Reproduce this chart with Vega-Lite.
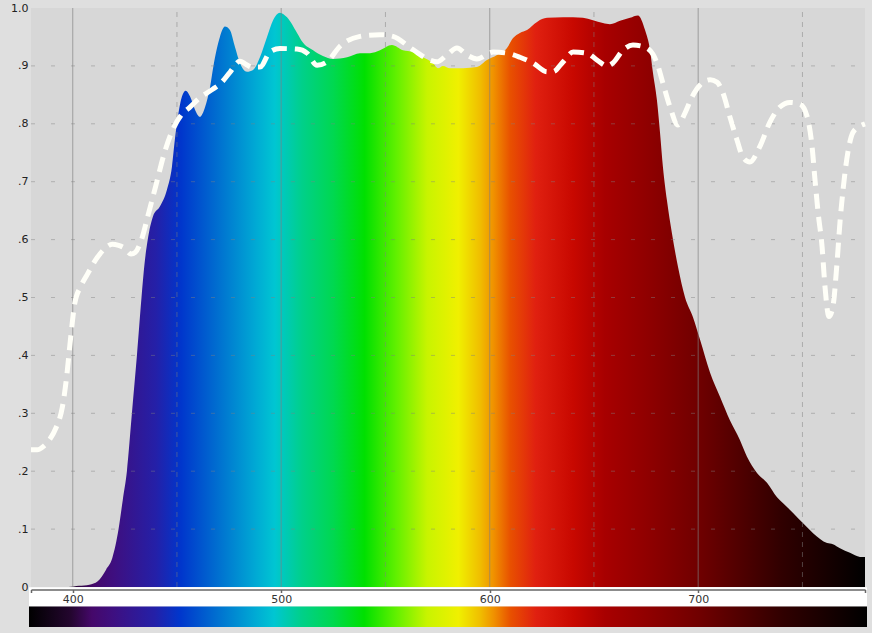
{
  "$schema": "https://vega.github.io/schema/vega-lite/v6.json",
  "width": 834,
  "height": 619,
  "autosize": {"type": "none"},
  "padding": {"left": 31, "top": 8, "right": 7, "bottom": 6},
  "background": "#dfdfdf",
  "config": {
    "view": {"stroke": null},
    "axis": {"labelFont": "DejaVu Sans", "labelFontSize": 11, "labelColor": "#222"}
  },
  "layer": [
    {
      "data": {"values": [{"a": 380, "b": 780, "lo": 0, "hi": 1}]},
      "mark": {"type": "rect", "fill": "#d7d7d7"},
      "encoding": {
        "x": {"field": "a", "type": "quantitative",
          "scale": {"domain": [380, 780], "nice": false, "zero": false},
          "axis": {"orient": "bottom", "offset": -37.5, "values": [380, 400, 500, 600, 700, 780],
            "labelExpr": "datum.value == 380 || datum.value == 780 ? '' : datum.label",
            "grid": false, "domainColor": "#666", "domainWidth": 1.5, "tickColor": "#666", "tickSize": 3, "tickWidth": 1.5,
            "labelPadding": 1, "title": null, "zindex": 1, "labelColor": "#333", "labelFlush": false, "labelBound": false, "labelOverlap": false}},
        "x2": {"field": "b"},
        "y": {"field": "lo", "type": "quantitative",
          "scale": {"domain": [-0.06908, 1], "nice": false, "zero": false},
          "axis": {"orient": "left", "values": [0, 0.1, 0.2, 0.3, 0.4, 0.5, 0.6, 0.7, 0.8, 0.9, 1],
            "labelExpr": "datum.value >= 0.99 ? '1.0' : datum.value <= 0.001 ? '0' : '.' + round(datum.value * 10)",
            "domain": false, "ticks": false, "grid": false, "labelPadding": 3, "title": null, "labelFlush": false, "labelOverlap": false}},
        "y2": {"field": "hi"}
      }
    },
    {
      "data": {"values": [
        {"nm": 380, "t": 0}, {"nm": 398, "t": 0}, {"nm": 403, "t": 0.002}, {"nm": 408, "t": 0.004},
        {"nm": 412, "t": 0.01}, {"nm": 416, "t": 0.03}, {"nm": 419, "t": 0.05}, {"nm": 422, "t": 0.1},
        {"nm": 424, "t": 0.15}, {"nm": 426, "t": 0.2}, {"nm": 428.4, "t": 0.3}, {"nm": 430.8, "t": 0.4},
        {"nm": 433, "t": 0.5}, {"nm": 434.5, "t": 0.56}, {"nm": 436, "t": 0.6}, {"nm": 438.5, "t": 0.64},
        {"nm": 441.8, "t": 0.657}, {"nm": 445.2, "t": 0.686}, {"nm": 447.6, "t": 0.726}, {"nm": 449, "t": 0.773},
        {"nm": 450.5, "t": 0.813}, {"nm": 452.4, "t": 0.847}, {"nm": 454.2, "t": 0.857}, {"nm": 456.3, "t": 0.847},
        {"nm": 458.7, "t": 0.824}, {"nm": 461, "t": 0.812}, {"nm": 463.5, "t": 0.829}, {"nm": 465.9, "t": 0.864},
        {"nm": 467.5, "t": 0.9}, {"nm": 470.6, "t": 0.95}, {"nm": 473, "t": 0.968}, {"nm": 475.4, "t": 0.962},
        {"nm": 477.8, "t": 0.933}, {"nm": 480.2, "t": 0.905}, {"nm": 483.6, "t": 0.89}, {"nm": 486.5, "t": 0.893},
        {"nm": 489.8, "t": 0.915}, {"nm": 493.2, "t": 0.95}, {"nm": 496.1, "t": 0.979}, {"nm": 499.4, "t": 0.992},
        {"nm": 502.8, "t": 0.984}, {"nm": 507.6, "t": 0.957}, {"nm": 510.5, "t": 0.94}, {"nm": 515.3, "t": 0.927},
        {"nm": 520, "t": 0.917}, {"nm": 524.8, "t": 0.912}, {"nm": 531.6, "t": 0.915}, {"nm": 537.8, "t": 0.922},
        {"nm": 542.6, "t": 0.922}, {"nm": 547.4, "t": 0.927}, {"nm": 553.1, "t": 0.936}, {"nm": 558.4, "t": 0.927},
        {"nm": 563.2, "t": 0.924}, {"nm": 568, "t": 0.915}, {"nm": 572.8, "t": 0.905}, {"nm": 575.2, "t": 0.896},
        {"nm": 577.6, "t": 0.9}, {"nm": 581, "t": 0.896}, {"nm": 587.2, "t": 0.896}, {"nm": 593.9, "t": 0.898},
        {"nm": 598.7, "t": 0.91}, {"nm": 603.5, "t": 0.919}, {"nm": 608.3, "t": 0.931}, {"nm": 611.2, "t": 0.948},
        {"nm": 614.5, "t": 0.957}, {"nm": 617.9, "t": 0.962}, {"nm": 622.7, "t": 0.976}, {"nm": 627.5, "t": 0.983},
        {"nm": 635.2, "t": 0.984}, {"nm": 640, "t": 0.984}, {"nm": 644.7, "t": 0.983}, {"nm": 649.5, "t": 0.979},
        {"nm": 654.3, "t": 0.974}, {"nm": 657.7, "t": 0.972}, {"nm": 662.5, "t": 0.978}, {"nm": 667.3, "t": 0.983},
        {"nm": 671.1, "t": 0.987}, {"nm": 674.5, "t": 0.962}, {"nm": 676.9, "t": 0.927}, {"nm": 678.3, "t": 0.888},
        {"nm": 680.2, "t": 0.841}, {"nm": 681.7, "t": 0.784}, {"nm": 683.1, "t": 0.725}, {"nm": 685, "t": 0.668},
        {"nm": 687.4, "t": 0.611}, {"nm": 690.3, "t": 0.553}, {"nm": 693.7, "t": 0.5}, {"nm": 697.5, "t": 0.466},
        {"nm": 700.9, "t": 0.427}, {"nm": 705.7, "t": 0.37}, {"nm": 710.5, "t": 0.328}, {"nm": 715.2, "t": 0.288},
        {"nm": 720, "t": 0.254}, {"nm": 723.4, "t": 0.225}, {"nm": 728.2, "t": 0.197}, {"nm": 733, "t": 0.18},
        {"nm": 737.8, "t": 0.155}, {"nm": 740.6, "t": 0.145}, {"nm": 745.5, "t": 0.128}, {"nm": 750.3, "t": 0.11},
        {"nm": 755.1, "t": 0.093}, {"nm": 761.8, "t": 0.076}, {"nm": 764.6, "t": 0.074}, {"nm": 768, "t": 0.067},
        {"nm": 772.8, "t": 0.059}, {"nm": 777.6, "t": 0.052}, {"nm": 780, "t": 0.052}
      ]},
      "mark": {"type": "area", "interpolate": "monotone",
        "fill": {"gradient": "linear", "x1": 0, "x2": 1, "y1": 0, "y2": 0, "stops": [
          {"offset": 0, "color": "#000000"}, {"offset": 0.05, "color": "#24062f"}, {"offset": 0.075, "color": "#45086a"},
          {"offset": 0.1, "color": "#3e0f80"}, {"offset": 0.15, "color": "#2420a8"}, {"offset": 0.18, "color": "#0036cc"},
          {"offset": 0.225, "color": "#0070d0"}, {"offset": 0.27, "color": "#00aad4"}, {"offset": 0.2925, "color": "#00c6d2"},
          {"offset": 0.325, "color": "#00d08a"}, {"offset": 0.3625, "color": "#00d850"}, {"offset": 0.4, "color": "#00e000"},
          {"offset": 0.4375, "color": "#60f000"}, {"offset": 0.475, "color": "#c8f400"}, {"offset": 0.5125, "color": "#f0f000"},
          {"offset": 0.5375, "color": "#f0c000"}, {"offset": 0.555, "color": "#f09000"}, {"offset": 0.575, "color": "#e85000"},
          {"offset": 0.605, "color": "#e02010"}, {"offset": 0.65, "color": "#c80800"}, {"offset": 0.6875, "color": "#a80000"},
          {"offset": 0.7375, "color": "#900000"}, {"offset": 0.8, "color": "#700000"}, {"offset": 0.9, "color": "#300000"},
          {"offset": 1, "color": "#000000"}]}},
      "encoding": {
        "x": {"field": "nm", "type": "quantitative", "title": null},
        "y": {"field": "t", "type": "quantitative", "title": null},
        "y2": {"datum": 0}
      }
    },
    {
      "data": {"values": [
        {"v": 0.1, "a": 380, "b": 780}, {"v": 0.2, "a": 380, "b": 780}, {"v": 0.3, "a": 380, "b": 780},
        {"v": 0.4, "a": 380, "b": 780}, {"v": 0.5, "a": 380, "b": 780}, {"v": 0.6, "a": 380, "b": 780},
        {"v": 0.7, "a": 380, "b": 780}, {"v": 0.8, "a": 380, "b": 780}, {"v": 0.9, "a": 380, "b": 780}
      ]},
      "mark": {"type": "rule", "stroke": "#808080", "strokeOpacity": 0.45, "strokeWidth": 1, "strokeDash": [4, 16]},
      "encoding": {
        "y": {"field": "v", "type": "quantitative", "title": null},
        "x": {"field": "a", "type": "quantitative", "title": null},
        "x2": {"field": "b"}
      }
    },
    {
      "data": {"values": [
        {"w": 450, "lo": 0, "hi": 1}, {"w": 550, "lo": 0, "hi": 1}, {"w": 650, "lo": 0, "hi": 1}, {"w": 750, "lo": 0, "hi": 1}
      ]},
      "mark": {"type": "rule", "stroke": "#808080", "strokeOpacity": 0.5, "strokeWidth": 1, "strokeDash": [5, 5]},
      "encoding": {
        "x": {"field": "w", "type": "quantitative", "title": null},
        "y": {"field": "lo", "type": "quantitative", "title": null},
        "y2": {"field": "hi"}
      }
    },
    {
      "data": {"values": [
        {"w": 400, "lo": 0, "hi": 1}, {"w": 500, "lo": 0, "hi": 1}, {"w": 600, "lo": 0, "hi": 1}, {"w": 700, "lo": 0, "hi": 1}
      ]},
      "mark": {"type": "rule", "stroke": "#808080", "strokeOpacity": 0.55, "strokeWidth": 1.2},
      "encoding": {
        "x": {"field": "w", "type": "quantitative", "title": null},
        "y": {"field": "lo", "type": "quantitative", "title": null},
        "y2": {"field": "hi"}
      }
    },
    {
      "data": {"values": [
        {"nm": 380, "r": 0.237}, {"nm": 383, "r": 0.237}, {"nm": 386, "r": 0.243}, {"nm": 389, "r": 0.255},
        {"nm": 392, "r": 0.275}, {"nm": 395, "r": 0.31}, {"nm": 397, "r": 0.36}, {"nm": 399, "r": 0.43},
        {"nm": 401, "r": 0.49}, {"nm": 404, "r": 0.52}, {"nm": 407, "r": 0.54}, {"nm": 411, "r": 0.565},
        {"nm": 415, "r": 0.583}, {"nm": 419, "r": 0.592}, {"nm": 422, "r": 0.59}, {"nm": 425, "r": 0.585},
        {"nm": 428, "r": 0.575}, {"nm": 430, "r": 0.578}, {"nm": 433, "r": 0.6}, {"nm": 436, "r": 0.64},
        {"nm": 440, "r": 0.695}, {"nm": 444, "r": 0.75}, {"nm": 448, "r": 0.79}, {"nm": 452, "r": 0.815},
        {"nm": 456, "r": 0.828}, {"nm": 461, "r": 0.845}, {"nm": 467.3, "r": 0.86}, {"nm": 471, "r": 0.87},
        {"nm": 475.4, "r": 0.889}, {"nm": 480.2, "r": 0.908}, {"nm": 483, "r": 0.903}, {"nm": 486, "r": 0.898},
        {"nm": 489.8, "r": 0.898}, {"nm": 494.6, "r": 0.924}, {"nm": 499.4, "r": 0.93}, {"nm": 507.6, "r": 0.929},
        {"nm": 512.4, "r": 0.922}, {"nm": 517.2, "r": 0.901}, {"nm": 522, "r": 0.907}, {"nm": 528.2, "r": 0.934},
        {"nm": 537.8, "r": 0.951}, {"nm": 547.4, "r": 0.954}, {"nm": 553.6, "r": 0.951}, {"nm": 563.2, "r": 0.928},
        {"nm": 571.4, "r": 0.91}, {"nm": 574.7, "r": 0.907}, {"nm": 579.5, "r": 0.919}, {"nm": 584.3, "r": 0.931},
        {"nm": 589, "r": 0.919}, {"nm": 593.9, "r": 0.912}, {"nm": 601.6, "r": 0.924}, {"nm": 608.3, "r": 0.922},
        {"nm": 614.5, "r": 0.915}, {"nm": 620.8, "r": 0.905}, {"nm": 627.5, "r": 0.89}, {"nm": 630.4, "r": 0.89},
        {"nm": 635.2, "r": 0.907}, {"nm": 640, "r": 0.924}, {"nm": 646.7, "r": 0.922}, {"nm": 651.5, "r": 0.91},
        {"nm": 656.3, "r": 0.9}, {"nm": 659.1, "r": 0.905}, {"nm": 663.9, "r": 0.927}, {"nm": 668.7, "r": 0.936},
        {"nm": 674, "r": 0.933}, {"nm": 678.3, "r": 0.92}, {"nm": 680.7, "r": 0.9}, {"nm": 683.1, "r": 0.87},
        {"nm": 686.5, "r": 0.829}, {"nm": 690.3, "r": 0.798}, {"nm": 693.7, "r": 0.819}, {"nm": 697, "r": 0.846},
        {"nm": 700.9, "r": 0.867}, {"nm": 705.7, "r": 0.876}, {"nm": 709, "r": 0.872}, {"nm": 711.9, "r": 0.853},
        {"nm": 715.2, "r": 0.812}, {"nm": 718.6, "r": 0.772}, {"nm": 721.5, "r": 0.742}, {"nm": 724.8, "r": 0.734},
        {"nm": 729.6, "r": 0.761}, {"nm": 734.4, "r": 0.803}, {"nm": 739.2, "r": 0.829}, {"nm": 744, "r": 0.837},
        {"nm": 748.8, "r": 0.834}, {"nm": 752.2, "r": 0.813}, {"nm": 754.6, "r": 0.761}, {"nm": 756, "r": 0.704},
        {"nm": 757.5, "r": 0.647}, {"nm": 759.4, "r": 0.588}, {"nm": 760.8, "r": 0.519}, {"nm": 762.7, "r": 0.467},
        {"nm": 764.6, "r": 0.484}, {"nm": 766.6, "r": 0.561}, {"nm": 768, "r": 0.63}, {"nm": 769.5, "r": 0.687},
        {"nm": 771.8, "r": 0.751}, {"nm": 774.2, "r": 0.785}, {"nm": 777.5, "r": 0.796}, {"nm": 780, "r": 0.8}
      ]},
      "mark": {"type": "line", "interpolate": "monotone", "stroke": "#fffff8", "strokeWidth": 5, "strokeDash": [15, 8], "strokeCap": "butt"},
      "encoding": {
        "x": {"field": "nm", "type": "quantitative", "title": null},
        "y": {"field": "r", "type": "quantitative", "title": null}
      }
    },
    {
      "data": {"values": [{"a": 379.04, "b": 780.96, "lo": -0.0005, "hi": -0.0337}]},
      "mark": {"type": "rect", "fill": "#ffffff"},
      "encoding": {
        "x": {"field": "a", "type": "quantitative", "title": null},
        "x2": {"field": "b"},
        "y": {"field": "lo", "type": "quantitative", "title": null},
        "y2": {"field": "hi"}
      }
    },
    {
      "data": {"values": [{"a": 379.04, "b": 780.96, "lo": -0.0337, "hi": -0.06908}]},
      "mark": {"type": "rect",
        "fill": {"gradient": "linear", "x1": 0, "x2": 1, "y1": 0, "y2": 0, "stops": [
          {"offset": 0, "color": "#000000"}, {"offset": 0.05, "color": "#24062f"}, {"offset": 0.075, "color": "#45086a"},
          {"offset": 0.1, "color": "#3e0f80"}, {"offset": 0.15, "color": "#2420a8"}, {"offset": 0.18, "color": "#0036cc"},
          {"offset": 0.225, "color": "#0070d0"}, {"offset": 0.27, "color": "#00aad4"}, {"offset": 0.2925, "color": "#00c6d2"},
          {"offset": 0.325, "color": "#00d08a"}, {"offset": 0.3625, "color": "#00d850"}, {"offset": 0.4, "color": "#00e000"},
          {"offset": 0.4375, "color": "#60f000"}, {"offset": 0.475, "color": "#c8f400"}, {"offset": 0.5125, "color": "#f0f000"},
          {"offset": 0.5375, "color": "#f0c000"}, {"offset": 0.555, "color": "#f09000"}, {"offset": 0.575, "color": "#e85000"},
          {"offset": 0.605, "color": "#e02010"}, {"offset": 0.65, "color": "#c80800"}, {"offset": 0.6875, "color": "#a80000"},
          {"offset": 0.7375, "color": "#900000"}, {"offset": 0.8, "color": "#700000"}, {"offset": 0.9, "color": "#300000"},
          {"offset": 1, "color": "#000000"}]}},
      "encoding": {
        "x": {"field": "a", "type": "quantitative", "title": null},
        "x2": {"field": "b"},
        "y": {"field": "lo", "type": "quantitative", "title": null},
        "y2": {"field": "hi"}
      }
    }
  ]
}
